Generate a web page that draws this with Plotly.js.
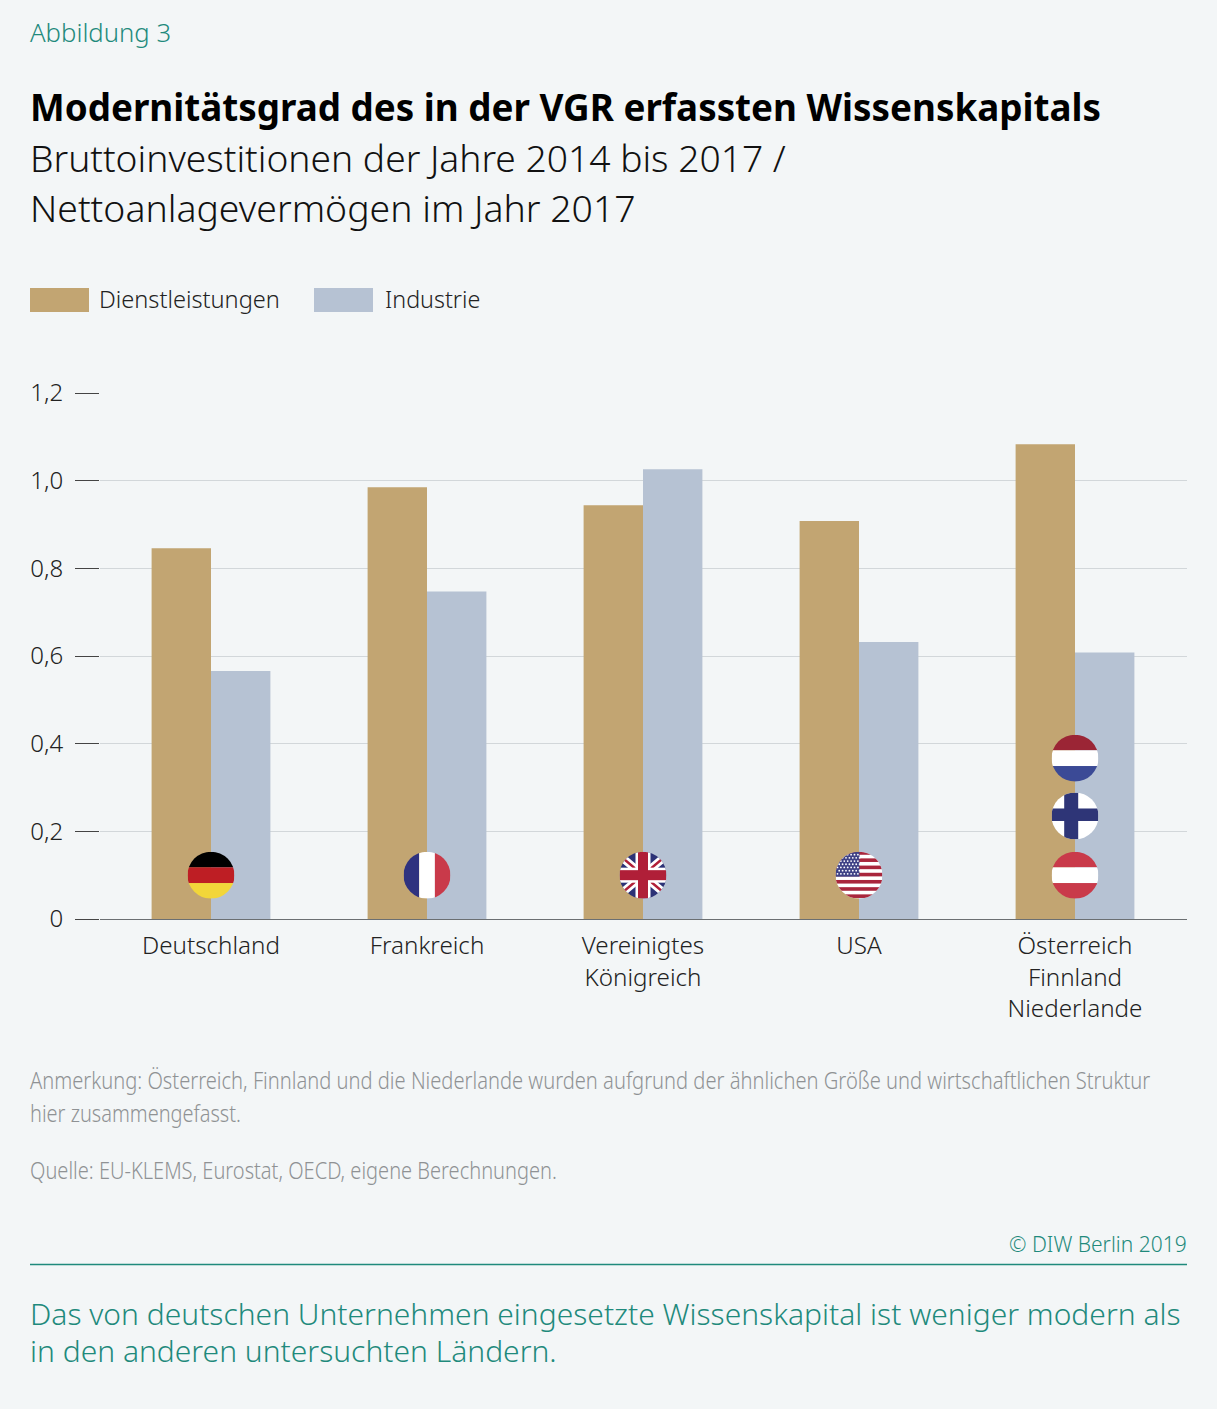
<!DOCTYPE html>
<html>
<head>
<meta charset="utf-8">
<script src="https://cdn.plot.ly/plotly-3.0.1.min.js"></script>
<style>
  html, body { margin: 0; padding: 0; background: #f3f6f7; }
</style>
</head>
<body>
<div id="chart" style="width:1217px;height:1409px"></div>
<script>
const countries = ["Deutschland", "Frankreich", "Vereinigtes<br>Königreich", "USA", "Österreich<br>Finnland<br>Niederlande"];
const services = [0.846, 0.985, 0.944, 0.908, 1.083];
const industry = [0.566, 0.747, 1.026, 0.632, 0.608];
const tickValues = [0, 0.2, 0.4, 0.6, 0.8, 1.0, 1.2];
const tickLabels = ["0", "0,2", "0,4", "0,6", "0,8", "1,0", "1,2"];
const seriesNames = ["Dienstleistungen", "Industrie"];

const W = 1217, H = 1409;
const plotL = 100, plotR = 1187, plotT = 393, plotB = 919;
const FONT = "'Noto Sans', sans-serif";
const TEAL = "#1f8a7c", GOLD = "#c2a572", BLUE = "#b6c2d3", GREY = "#8f9294";

// pixel -> paper coordinates
const px = (x) => (x - plotL) / (plotR - plotL);
const py = (y) => (plotB - y) / (plotB - plotT);

function flagUri(body) {
  const svg = `<svg xmlns="http://www.w3.org/2000/svg" width="94" height="94" viewBox="0 0 47 47"><defs><clipPath id="c"><circle cx="23.5" cy="23.5" r="23.5"/></clipPath></defs><g clip-path="url(#c)">${body}</g></svg>`;
  return "data:image/svg+xml;charset=utf-8," + encodeURIComponent(svg);
}
const r = (x, y, w, h, c) => `<rect x="${x}" y="${y}" width="${w}" height="${h}" fill="${c}"/>`;

function usFlag() {
  let s = r(0, 0, 47, 47, "#fff");
  for (let i = 0; i < 7; i++) s += r(0, i * 7.2 - 0.5, 47, 3.6, "#a9263c");
  s += r(0, 0, 24, 25, "#3f4286");
  for (let row = 0; row < 7; row++) {
    for (let col = 0; col < 7; col++) {
      s += `<circle cx="${2 + col * 3.4 + (row % 2) * 1.7}" cy="${3 + row * 3.2}" r="0.9" fill="#fff"/>`;
    }
  }
  return s;
}
const ukFlag =
  r(0, 0, 47, 47, "#2c3276") +
  `<path d="M-2 2L49 45M49 2L-2 45" stroke="#fff" stroke-width="8"/>` +
  `<path d="M-2 2L49 45M49 2L-2 45" stroke="#b01f38" stroke-width="2.5"/>` +
  r(0, 16, 47, 15, "#fff") + r(16, 0, 15, 47, "#fff") +
  r(0, 18.5, 47, 10, "#b01f38") + r(18.5, 0, 10, 47, "#b01f38");

const flags = [
  { cat: 0, val: 0.1, body: r(0, 0, 47, 15.7, "#000") + r(0, 15.7, 47, 15.7, "#be1e24") + r(0, 31.4, 47, 15.7, "#f2d63a") },
  { cat: 1, val: 0.1, body: r(0, 0, 15.7, 47, "#2f327f") + r(15.7, 0, 15.7, 47, "#fff") + r(31.4, 0, 15.7, 47, "#c93a4a") },
  { cat: 2, val: 0.1, body: ukFlag },
  { cat: 3, val: 0.1, body: usFlag() },
  { cat: 4, val: 0.1, body: r(0, 0, 47, 15.7, "#c93a4a") + r(0, 15.7, 47, 15.7, "#fff") + r(0, 31.4, 47, 15.7, "#c93a4a") },
  { cat: 4, val: 0.235, body: r(0, 0, 47, 47, "#fff") + r(12.7, 0, 14, 47, "#2e3577") + r(0, 16, 47, 12.5, "#2e3577") },
  { cat: 4, val: 0.367, body: r(0, 0, 47, 15.7, "#9b2535") + r(0, 15.7, 47, 15.7, "#fff") + r(0, 31.4, 47, 15.7, "#3b4a96") },
];

function label(text, x, y, size, color, extra) {
  return Object.assign({
    text: text, xref: "paper", yref: "paper", x: px(x - 2), y: py(y),
    xanchor: "left", yanchor: "middle", showarrow: false, align: "left",
    font: { family: FONT, size: size, color: color, weight: 300 },
  }, extra || {});
}

// the footnotes are set in a condensed face in the original, squeezed to these widths after drawing
const noteWidths = {
  "Anmerkung: Österreich, Finnland und die Niederlande wurden aufgrund der ähnlichen Größe und wirtschaftlichen Struktur": 1121,
  "hier zusammengefasst.": 211,
  "Quelle: EU-KLEMS, Eurostat, OECD, eigene Berechnungen.": 527,
};

const annotations = [
  label("Abbildung 3", 30, 33, 25.7, TEAL),
  label("Bruttoinvestitionen der Jahre 2014 bis 2017 /", 30, 157.5, 37.2, "#111"),
  label("Nettoanlagevermögen im Jahr 2017", 30, 207.5, 37.4, "#111"),
  label(seriesNames[0], 99, 298.5, 23.6, "#222"),
  label(seriesNames[1], 385, 298.5, 23.3, "#222"),
  label("Anmerkung: Österreich, Finnland und die Niederlande wurden aufgrund der ähnlichen Größe und wirtschaftlichen Struktur", 30, 1079.5, 24, GREY),
  label("hier zusammengefasst.", 30, 1112, 24, GREY),
  label("Quelle: EU-KLEMS, Eurostat, OECD, eigene Berechnungen.", 30, 1169.5, 24, GREY),
  label("© DIW Berlin 2019", 1191, 1244, 21, TEAL, { xanchor: "right", align: "right" }),
  label("Das von deutschen Unternehmen eingesetzte Wissenskapital ist weniger modern als", 30, 1313, 30, TEAL),
  label("in den anderen untersuchten Ländern.", 30, 1350, 30, TEAL),
];

const shapes = [
  { type: "rect", xref: "paper", yref: "paper", x0: px(30), x1: px(89), y0: py(288), y1: py(312), fillcolor: GOLD, line: { width: 0 } },
  { type: "rect", xref: "paper", yref: "paper", x0: px(314), x1: px(373), y0: py(288), y1: py(312), fillcolor: BLUE, line: { width: 0 } },
  { type: "line", xref: "paper", yref: "paper", x0: px(30), x1: px(1187), y0: py(1264.5), y1: py(1264.5), line: { color: TEAL, width: 1.5 } },
];

const images = flags.map((f) => ({
  source: flagUri(f.body),
  xref: "x", yref: "y", x: f.cat, y: f.val,
  sizex: 47 / 216, sizey: 47 / 438.3,
  xanchor: "center", yanchor: "middle", sizing: "stretch", layer: "above",
}));

const traces = [
  { type: "bar", name: seriesNames[0], x: countries, y: services, marker: { color: GOLD }, hoverinfo: "skip" },
  { type: "bar", name: seriesNames[1], x: countries, y: industry, marker: { color: BLUE }, hoverinfo: "skip" },
];

const layout = {
  width: W, height: H,
  paper_bgcolor: "#f3f6f7", plot_bgcolor: "#f3f6f7",
  margin: { l: plotL, r: W - plotR, t: plotT, b: H - plotB, pad: 0 },
  title: {
    text: "<b>Modernitätsgrad des in der VGR erfassten Wissenskapitals</b>",
    x: 30 / W, xref: "container", xanchor: "left",
    y: 1 - 108 / H, yref: "container", yanchor: "middle",
    font: { family: FONT, size: 36.8, color: "#000" },
  },
  showlegend: false,
  barmode: "group", bargap: 0.45, bargroupgap: 0,
  xaxis: {
    type: "category", categoryorder: "array", categoryarray: countries,
    range: [(plotL - 211) / 216, (plotR - 211) / 216],
    ticks: "", showgrid: false, zeroline: false,
    showline: true, linecolor: "#6b6f72", linewidth: 1,
    tickfont: { family: FONT, size: 24.2, color: "#222", weight: 300 },
    ticklabelstandoff: 5,
    automargin: false,
  },
  yaxis: {
    range: [0, 1.2], tickmode: "array", tickvals: tickValues, ticktext: tickLabels,
    ticks: "outside", ticklen: 24, tickcolor: "#444", tickwidth: 1,
    showgrid: true, gridcolor: "#d2d7da", gridwidth: 1, zeroline: false, showline: false,
    tickfont: { family: FONT, size: 24, color: "#222", weight: 300 },
    ticklabelstandoff: 7,
    automargin: false,
  },
  annotations: annotations, shapes: shapes, images: images,
};

Plotly.newPlot("chart", traces, layout, { displayModeBar: false, staticPlot: true }).then(() => {
  document.querySelectorAll("#chart .annotation-text").forEach((t) => {
    const width = noteWidths[t.textContent];
    if (width) {
      const x = t.getBBox().x;
      const k = width / t.getComputedTextLength();
      t.setAttribute("transform", `translate(${x} 0) scale(${k} 1) translate(${-x} 0)`);
    }
  });
});
</script>
</body>
</html>
